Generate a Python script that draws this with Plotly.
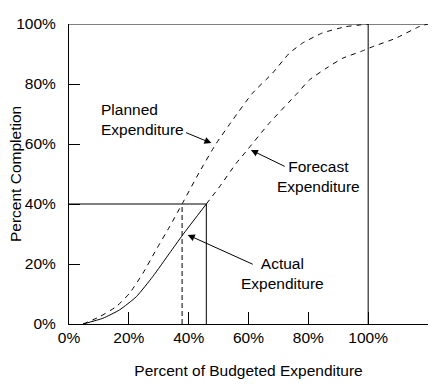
import plotly.graph_objects as go

# Planned expenditure S-curve (percent of budget spent vs percent complete)
planned_x = [4.7, 10.2, 15.8, 20.2, 24.7, 29.1, 33.6, 37.8, 43.5, 49.1, 54.7, 61.3, 68.0, 73.6, 78.0, 84.7, 92.5, 97.5, 100.0]
planned_y = [0.0, 2.4, 5.8, 10.2, 16.9, 24.7, 32.4, 40.0, 50.5, 60.0, 68.0, 76.9, 83.6, 90.2, 93.6, 97.0, 99.1, 99.7, 100.0]

# Actual expenditure to date
actual_x = [4.7, 11.3, 16.9, 22.5, 28.0, 33.6, 38.0, 45.9]
actual_y = [0.0, 1.9, 4.7, 9.1, 15.8, 23.6, 29.7, 40.0]

# Forecast expenditure from the status date onward
forecast_x = [45.9, 50.5, 55.9, 59.1, 66.9, 76.3, 80.3, 85.9, 91.5, 97.5, 101.4, 109.1, 117.0, 120.0]
forecast_y = [40.0, 46.0, 53.6, 57.4, 66.9, 76.9, 81.3, 85.2, 88.6, 90.8, 92.4, 95.2, 99.1, 100.0]

# Status values
status_complete = 40.0      # percent complete at status date
status_actual_spend = 45.9  # percent of budget actually spent
status_planned_spend = 37.8 # percent of budget planned for that completion
budget_total = 100.0
x_max = 120.0

tick_vals = [0, 20, 40, 60, 80, 100]
tick_text = ["0%", "20%", "40%", "60%", "80%", "100%"]

FONT = "Liberation Sans, Arial, sans-serif"
FS = 15.5

fig = go.Figure()

# top boundary line at 100%
fig.add_trace(go.Scatter(x=[0, x_max], y=[budget_total, budget_total], mode="lines",
                         line=dict(color="black", width=1), hoverinfo="skip", cliponaxis=False))
# 100% budget vertical
fig.add_trace(go.Scatter(x=[budget_total, budget_total], y=[0, budget_total], mode="lines",
                         line=dict(color="black", width=1), hoverinfo="skip"))
# status box
fig.add_trace(go.Scatter(x=[0, status_actual_spend, status_actual_spend],
                         y=[status_complete, status_complete, 0], mode="lines",
                         line=dict(color="black", width=1), hoverinfo="skip"))
# planned spend at status (dashed)
fig.add_trace(go.Scatter(x=[status_planned_spend, status_planned_spend], y=[0, status_complete], mode="lines",
                         line=dict(color="black", width=1, dash="5px,3px"), hoverinfo="skip"))

fig.add_trace(go.Scatter(x=planned_x, y=planned_y, mode="lines", name="Planned",
                         line=dict(color="black", width=1, dash="5px,5px", shape="spline", smoothing=0.5)))
fig.add_trace(go.Scatter(x=forecast_x, y=forecast_y, mode="lines", name="Forecast",
                         line=dict(color="black", width=1, dash="5px,5px", shape="spline", smoothing=0.5)))
fig.add_trace(go.Scatter(x=actual_x, y=actual_y, mode="lines", name="Actual",
                         line=dict(color="black", width=1, shape="spline", smoothing=0.5)))

def arrow(tip, tail):
    fig.add_annotation(x=tip[0], y=tip[1], ax=tail[0], ay=tail[1], axref="x", ayref="y",
                       xref="x", yref="y", text="", showarrow=True, arrowhead=2,
                       arrowsize=1.4, arrowwidth=1, arrowcolor="black")

arrow((47.6, 60.3), (38.6, 64.0))
arrow((60.8, 58.0), (72.6, 52.3))
arrow((39.7, 29.7), (61.9, 19.7))

def label(x, y, text, xanchor="center", align="center"):
    fig.add_annotation(x=x, y=y, xref="x", yref="y", text=text, showarrow=False,
                       xanchor=xanchor, yanchor="middle", align=align,
                       font=dict(family=FONT, size=FS, color="black"))

label(9.9, 68.3, "Planned<br>Expenditure", xanchor="left", align="left")
label(83.3, 49.3, "Forecast<br>Expenditure")
label(71.2, 17.0, "Actual<br>Expenditure")

# y-axis title placed relative to the plot area
fig.add_annotation(x=0, y=0.5, xref="paper", yref="paper", xshift=-54, text="Percent Completion",
                   textangle=-90, showarrow=False, xanchor="center", yanchor="middle",
                   font=dict(family=FONT, size=FS, color="black"))

# page body has an 8px margin, so shift the plot area accordingly
fig.update_layout(
    width=446, height=389,
    margin=dict(l=61, r=26, t=16, b=73, autoexpand=False),
    paper_bgcolor="white", plot_bgcolor="white",
    showlegend=False,
    font=dict(family=FONT, size=FS, color="black"),
)
fig.update_xaxes(range=[0, x_max], tickvals=tick_vals, ticktext=tick_text,
                 ticks="inside", ticklen=12, tickcolor="black", tickwidth=1,
                 showline=True, linecolor="black", linewidth=1, showgrid=False, zeroline=False,
                 automargin=False, ticklabelstandoff=-1,
                 title=dict(text="Percent of Budgeted Expenditure", standoff=20,
                            font=dict(family=FONT, size=FS, color="black")),
                 tickfont=dict(family=FONT, size=FS, color="black"))
fig.update_yaxes(range=[0, 100], tickvals=tick_vals, ticktext=tick_text,
                 ticks="inside", ticklen=11, tickcolor="black", tickwidth=1,
                 showline=True, linecolor="black", linewidth=1, showgrid=False, zeroline=False,
                 automargin=False, ticklabelstandoff=9,
                 tickfont=dict(family=FONT, size=FS, color="black"))

fig.write_html("out.html")
